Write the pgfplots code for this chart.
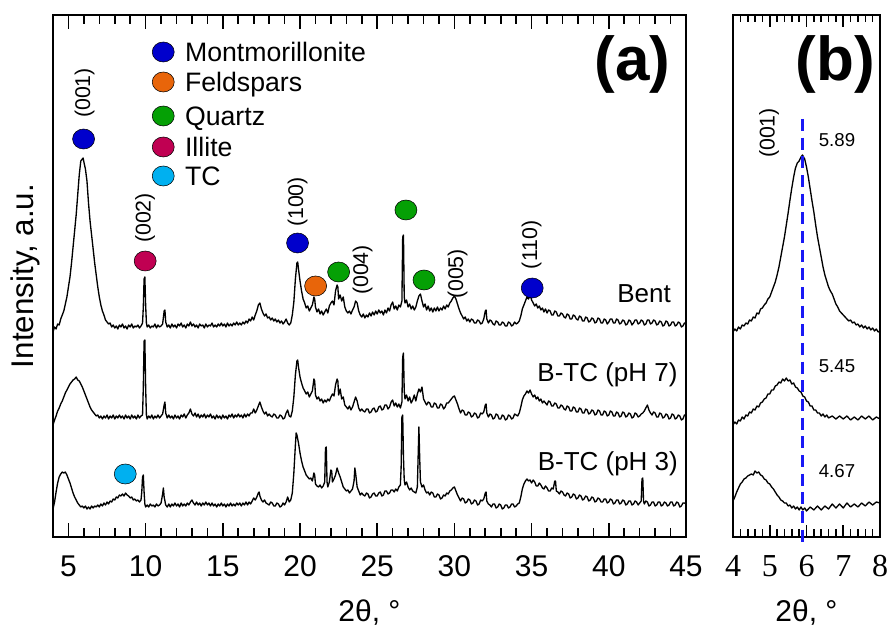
\documentclass[border=0pt]{standalone}
\usepackage{pgfplots}
\pgfplotsset{compat=1.18}
\usepackage{fontspec}
\setmainfont{Liberation Sans}
\newfontfamily\serifnum{Liberation Serif}
\newcommand{\fs}[1]{\fontsize{#1}{#1}\selectfont}
\definecolor{cmont}{RGB}{0,0,204}
\definecolor{cfeld}{RGB}{232,101,10}
\definecolor{cquartz}{RGB}{5,160,5}
\definecolor{cillite}{RGB}{192,0,82}
\definecolor{ctc}{RGB}{0,176,240}
\definecolor{cline}{RGB}{25,25,245}
\newcommand{\dotplot}[3]{\addplot[only marks, mark=*, mark size=7.5pt, mark options={draw=none, fill=#1, xscale=1.1}] coordinates {(#2,#3)};}
\pgfplotsset{trace/.style={black, line width=1.0pt, no marks, line join=round}}
\begin{document}
\begin{tikzpicture}
\path[use as bounding box] (0pt,0pt) rectangle (667.5pt,473.25pt);
\begin{axis}[
  at={(39.75pt,70.5pt)}, anchor=south west, scale only axis,
  width=474.75pt, height=391.5pt,
  xmin=4, xmax=45, ymin=0, ymax=522,
  xtick={5,10,...,45}, ytick=\empty,
  tick align=inside, xtick pos=both,
  major tick length=10.5pt,
  tick style={draw=black, line width=1.2pt},
  axis line style={line width=1.1pt},
  /pgf/number format/assume math mode=true,
  xticklabel style={font=\fs{22.5}, anchor=base, yshift=-30pt},
  xlabel={2θ, °}, xlabel style={at={(axis description cs:0.5,-0.162)}, anchor=base, font=\fs{22.5}},
  ylabel={Intensity, a.u.}, ylabel style={at={(axis description cs:-0.0442,0.5)}, anchor=center, font=\fs{23.5}},
]
% tick marks (bottom and top, inward)
\pgfplotsinvokeforeach{5,10,15,20,25,30,35,40,45}{
  \draw[black, line width=1.2pt] (axis cs:#1,0) -- (axis cs:#1,14);
  \draw[black, line width=1.2pt] (axis cs:#1,522) -- (axis cs:#1,508);
}
\pgfplotsinvokeforeach{6,7,8,9,11,12,13,14,16,17,18,19,21,22,23,24,26,27,28,29,31,32,33,34,36,37,38,39,41,42,43,44}{
  \draw[black, line width=1.2pt] (axis cs:#1,0) -- (axis cs:#1,9);
  \draw[black, line width=1.2pt] (axis cs:#1,522) -- (axis cs:#1,513);
}
% Bent
\addplot[trace] coordinates {(4.0,205) (4.1,210) (4.2,208) (4.3,213) (4.4,212) (4.5,218) (4.6,222) (4.7,226) (4.8,233) (4.9,240) (5.0,250) (5.1,260) (5.2,274) (5.3,290) (5.4,306) (5.5,322) (5.6,342) (5.7,362) (5.8,376) (5.9,378) (5.95,379) (6.0,375) (6.1,368) (6.2,356) (6.3,334) (6.4,316) (6.5,302) (6.6,288) (6.7,274) (6.8,262) (6.9,250) (7.0,240) (7.1,232) (7.2,226) (7.3,222) (7.4,217) (7.5,215) (7.6,213) (7.7,214) (7.8,210)
(7.9,212) (8.0,209) (8.1,211) (8.2,208) (8.3,212) (8.4,210) (8.5,213) (8.6,209) (8.7,211) (8.8,208) (8.9,212) (9.0,210) (9.1,213) (9.2,209) (9.3,211) (9.4,210) (9.5,212) (9.6,209) (9.7,211) (9.8,214) (9.85,230) (9.9,258) (9.95,260) (10.0,232) (10.05,214) (10.1,210) (10.2,212) (10.3,209) (10.4,211) (10.5,210) (10.6,213) (10.7,209) (10.8,212) (10.9,210) (11.0,211) (11.1,213) (11.2,226) (11.25,227) (11.3,215) (11.4,210) (11.5,212)
(11.6,209) (11.7,213) (11.8,210) (11.9,212) (12.0,209) (12.1,213) (12.2,211) (12.3,214) (12.4,210) (12.5,212) (12.6,209) (12.7,213) (12.8,211) (12.9,215) (13.0,211) (13.1,213) (13.2,210) (13.3,212) (13.4,209) (13.5,213) (13.6,211) (13.7,212) (13.8,209) (13.9,213) (14.0,210) (14.1,212) (14.2,211) (14.3,214) (14.4,210) (14.5,212) (14.6,210) (14.7,213) (14.8,211) (14.9,214) (15.0,211) (15.1,213) (15.2,210) (15.3,214) (15.4,211) (15.5,213) (15.6,211) (15.7,214) (15.8,212) (15.9,215) (16.0,212) (16.1,214) (16.2,212) (16.3,215) (16.4,213) (16.5,216) (16.6,214) (16.7,218) (16.8,216) (16.9,220) (17.0,217) (17.1,222) (17.2,226) (17.3,232) (17.4,234) (17.5,228) (17.6,224) (17.7,221) (17.8,223) (17.9,219) (18.0,220) (18.1,217) (18.2,219) (18.3,216) (18.4,218) (18.5,215) (18.6,217) (18.7,214) (18.8,216) (18.9,213) (19.0,215) (19.1,218) (19.2,214) (19.3,212) (19.4,214) (19.5,222) (19.6,235) (19.7,258) (19.8,274) (19.85,275) (19.9,268) (20.0,256) (20.1,246) (20.2,238) (20.3,234) (20.4,229) (20.5,231) (20.6,226) (20.7,229) (20.8,232) (20.9,240) (20.95,238) (21.0,230) (21.1,225) (21.2,228) (21.3,223) (21.4,226) (21.5,222) (21.6,225) (21.7,228) (21.8,224) (21.9,231) (22.0,234) (22.1,236) (22.2,232) (22.3,246) (22.4,252) (22.45,250) (22.5,238) (22.6,242) (22.7,236) (22.8,240) (22.9,230) (23.0,226) (23.1,224) (23.2,226) (23.3,223) (23.4,227) (23.5,230) (23.6,236) (23.7,234) (23.8,226) (23.9,222) (24.0,220) (24.1,223) (24.2,219) (24.3,222) (24.4,220) (24.5,224) (24.6,221) (24.7,225) (24.8,222) (24.9,226) (25.0,223) (25.1,227) (25.2,224) (25.3,226) (25.4,222) (25.5,227) (25.6,224) (25.7,229) (25.8,226) (25.9,232) (26.0,235) (26.1,228) (26.2,231) (26.3,227) (26.4,232) (26.5,230) (26.6,236) (26.65,300) (26.7,302) (26.75,240) (26.8,234) (26.9,237) (27.0,230) (27.1,233) (27.2,228) (27.3,231) (27.4,227) (27.5,230) (27.6,236) (27.7,241) (27.8,243) (27.9,236) (28.0,230) (28.1,233) (28.2,227) (28.3,231) (28.4,226) (28.5,229) (28.6,225) (28.7,229) (28.8,226) (28.9,230) (29.0,226) (29.1,229) (29.2,227) (29.3,231) (29.4,228) (29.5,232) (29.6,230) (29.7,234) (29.8,236) (29.9,239) (30.0,241) (30.1,238) (30.2,233) (30.3,228) (30.4,224) (30.5,221) (30.6,218) (30.7,220) (30.8,216) (30.9,218) (31.0,215) (31.1,218) (31.2,217) (31.3,214) (31.4,214) (31.5,217) (31.6,216) (31.7,213) (31.8,214) (31.9,218) (32.0,226) (32.05,227) (32.1,218) (32.2,214) (32.3,217) (32.4,216) (32.5,213) (32.6,212) (32.7,216) (32.8,215) (32.9,212) (33.0,212) (33.1,215) (33.2,214) (33.3,211) (33.4,211) (33.5,215) (33.6,214) (33.7,211) (33.8,212) (33.9,215) (34.0,213) (34.1,214) (34.2,216) (34.3,221) (34.4,228) (34.5,232) (34.6,236) (34.7,240) (34.8,238) (34.9,242) (35.0,237) (35.1,234) (35.2,231) (35.3,233) (35.4,229) (35.5,231) (35.6,227) (35.7,229) (35.8,225) (35.9,228) (36.0,224) (36.1,227) (36.2,226) (36.3,222) (36.4,222) (36.5,226) (36.6,225) (36.7,221) (36.8,221) (36.9,224) (37.0,223) (37.1,220) (37.2,219) (37.3,223) (37.4,222) (37.5,218) (37.6,218) (37.7,222) (37.8,221) (37.9,218) (38.0,217) (38.1,221) (38.2,220) (38.3,216) (38.4,216) (38.5,220) (38.6,219) (38.7,215) (38.8,216) (38.9,219) (39.0,218) (39.1,214) (39.2,215) (39.3,219) (39.4,218) (39.5,214) (39.6,214) (39.7,218) (39.8,217) (39.9,213) (40.0,215) (40.1,218) (40.2,218) (40.3,214) (40.4,214) (40.5,218) (40.6,217) (40.7,213) (40.8,214) (40.9,217) (41.0,216) (41.1,212) (41.2,213) (41.3,217) (41.4,216) (41.5,212) (41.6,214) (41.7,217) (41.8,217) (41.9,213) (42.0,214) (42.1,217) (42.2,216) (42.3,212) (42.4,213) (42.5,217) (42.6,217) (42.7,213) (42.8,214) (42.9,217) (43.0,216) (43.1,212) (43.2,213) (43.3,216) (43.4,215) (43.5,211) (43.6,212) (43.7,216) (43.8,215) (43.9,211) (44.0,212) (44.1,215) (44.2,215) (44.3,211) (44.4,212) (44.5,215) (44.6,214) (44.7,210) (44.8,211) (44.9,214) (45.0,213)};
% B-TC pH 7
\addplot[trace] coordinates {(4.0,112) (4.1,117) (4.2,121) (4.3,126) (4.4,129) (4.5,133) (4.6,136) (4.7,140) (4.8,144) (4.9,147) (5.0,150) (5.1,153) (5.2,155) (5.3,157) (5.4,158) (5.5,160) (5.6,157) (5.7,156) (5.8,153) (5.9,150) (6.0,146) (6.1,142) (6.2,138) (6.3,134) (6.4,130) (6.5,127) (6.6,125) (6.7,123) (6.8,121) (6.9,122) (7.0,119) (7.1,121)
(7.2,118) (7.3,121) (7.4,119) (7.5,122) (7.6,118) (7.7,121) (7.8,119) (7.9,122) (8.0,118) (8.1,121) (8.2,119) (8.3,122) (8.4,119) (8.5,121) (8.6,118) (8.7,122) (8.8,119) (8.9,121) (9.0,118) (9.1,122) (9.2,119) (9.3,121) (9.4,118) (9.5,122) (9.6,119) (9.7,121) (9.8,122) (9.85,150) (9.9,196) (9.95,197) (10.0,150) (10.05,122) (10.1,118) (10.2,121) (10.3,119) (10.4,122) (10.5,118) (10.6,121) (10.7,119) (10.8,122) (10.9,119) (11.0,121) (11.1,123) (11.2,132) (11.25,135) (11.3,124) (11.4,119)
(11.5,122) (11.6,119) (11.7,121) (11.8,118) (11.9,122) (12.0,119) (12.1,121) (12.2,118) (12.3,122) (12.4,120) (12.5,123) (12.6,119) (12.7,122) (12.8,124) (12.9,128) (13.0,123) (13.1,121) (13.2,124) (13.3,120) (13.4,123) (13.5,119) (13.6,122) (13.7,120) (13.8,123) (13.9,119) (14.0,122) (14.1,120) (14.2,123) (14.3,119) (14.4,121) (14.5,118) (14.6,122) (14.7,119) (14.8,121) (14.9,118) (15.0,122) (15.1,119) (15.2,121) (15.3,118) (15.4,122) (15.5,120) (15.6,123) (15.7,119) (15.8,122) (15.9,120) (16.0,123) (16.1,120) (16.2,122) (16.3,119) (16.4,123) (16.5,120) (16.6,123) (16.7,121) (16.8,124)
(16.9,124) (17.0,128) (17.1,124) (17.2,127) (17.3,131) (17.4,135) (17.5,130) (17.6,126) (17.7,123) (17.8,125) (17.9,121) (18.0,123) (18.1,121) (18.2,120) (18.3,123) (18.4,122) (18.5,119) (18.6,119) (18.7,122) (18.8,121) (18.9,118) (19.0,119) (19.1,124) (19.2,127) (19.3,121) (19.4,120) (19.5,126) (19.6,140) (19.7,162) (19.8,176) (19.85,177) (19.9,170) (20.0,160) (20.1,154) (20.2,149) (20.3,146) (20.4,143) (20.5,145) (20.6,140) (20.7,143) (20.8,146) (20.9,158) (20.95,156) (21.0,142) (21.1,138) (21.2,140) (21.3,136) (21.4,138) (21.5,134) (21.6,137) (21.7,135) (21.8,138) (21.9,136) (22.0,140) (22.1,143) (22.2,141) (22.3,152) (22.4,158) (22.45,156) (22.5,142) (22.6,148) (22.7,138) (22.8,140) (22.9,132) (23.0,130) (23.1,128) (23.2,131) (23.3,127) (23.4,130) (23.5,135) (23.6,140) (23.7,136) (23.8,129) (23.9,126) (24.0,128) (24.1,126) (24.2,125) (24.3,128) (24.4,128) (24.5,124) (24.6,125) (24.7,128) (24.8,129) (24.9,125) (25.0,126) (25.1,130) (25.2,131) (25.3,127) (25.4,128) (25.5,132) (25.6,132) (25.7,128) (25.8,130) (25.9,135) (26.0,137) (26.1,131) (26.2,134) (26.3,130) (26.4,133) (26.5,129) (26.6,135) (26.65,180) (26.7,184) (26.75,146) (26.8,138) (26.9,142) (27.0,136) (27.1,140) (27.2,134) (27.3,137) (27.4,142) (27.5,136) (27.6,143) (27.7,148) (27.8,145) (27.9,150) (28.0,138) (28.1,135) (28.2,132) (28.3,135) (28.4,134) (28.5,130) (28.6,130) (28.7,134) (28.8,133) (28.9,129) (29.0,129) (29.1,133) (29.2,132) (29.3,128) (29.4,130) (29.5,134) (29.6,134) (29.7,136) (29.8,138) (29.9,140) (30.0,141) (30.1,137) (30.2,133) (30.3,128) (30.4,124) (30.5,127) (30.6,126) (30.7,122) (30.8,122) (30.9,125) (31.0,124) (31.1,120) (31.2,121) (31.3,124) (31.4,123) (31.5,119) (31.6,120) (31.7,124) (31.8,123) (31.9,125) (32.0,132) (32.05,133) (32.1,124) (32.2,120) (32.3,123) (32.4,122) (32.5,118) (32.6,119) (32.7,123) (32.8,122) (32.9,118) (33.0,118) (33.1,122) (33.2,121) (33.3,117) (33.4,118) (33.5,122) (33.6,121) (33.7,118) (33.8,119) (33.9,123) (34.0,122) (34.1,121) (34.2,124) (34.3,130) (34.4,137) (34.5,141) (34.6,143) (34.7,146) (34.8,144) (34.9,147) (35.0,143) (35.1,140) (35.2,142) (35.3,138) (35.4,140) (35.5,136) (35.6,138) (35.7,134) (35.8,136) (35.9,134) (36.0,132) (36.1,136) (36.2,135) (36.3,131) (36.4,131) (36.5,134) (36.6,133) (36.7,129) (36.8,129) (36.9,132) (37.0,131) (37.1,128) (37.2,127) (37.3,131) (37.4,130) (37.5,126) (37.6,126) (37.7,130) (37.8,129) (37.9,125) (38.0,125) (38.1,129) (38.2,128) (38.3,124) (38.4,124) (38.5,128) (38.6,127) (38.7,123) (38.8,124) (38.9,127) (39.0,126) (39.1,122) (39.2,123) (39.3,127) (39.4,126) (39.5,122) (39.6,122) (39.7,126) (39.8,125) (39.9,121) (40.0,122) (40.1,126) (40.2,125) (40.3,121) (40.4,121) (40.5,125) (40.6,124) (40.7,120) (40.8,121) (40.9,125) (41.0,124) (41.1,120) (41.2,121) (41.3,124) (41.4,123) (41.5,119) (41.6,120) (41.7,124) (41.8,123) (41.9,120) (42.0,121) (42.1,123) (42.2,124) (42.3,126) (42.4,129) (42.5,132) (42.6,127) (42.7,124) (42.8,122) (42.9,125) (43.0,124) (43.1,120) (43.2,120) (43.3,124) (43.4,123) (43.5,119) (43.6,120) (43.7,123) (43.8,122) (43.9,118) (44.0,119) (44.1,123) (44.2,122) (44.3,118) (44.4,119) (44.5,122) (44.6,121) (44.7,117) (44.8,118) (44.9,122) (45.0,121)};
% B-TC pH 3
\addplot[trace] coordinates {(4.0,28) (4.1,35) (4.2,45) (4.3,54) (4.4,60) (4.5,63) (4.6,65) (4.7,64) (4.8,65) (4.9,62) (5.0,58) (5.1,54) (5.2,49) (5.3,44) (5.4,40) (5.5,37) (5.6,34) (5.7,32) (5.8,30) (5.9,31) (6.0,29) (6.1,31) (6.2,28) (6.3,30) (6.4,28) (6.5,31) (6.6,29) (6.7,31) (6.8,30) (6.9,32) (7.0,30) (7.1,33) (7.2,31) (7.3,34) (7.4,32) (7.5,35) (7.6,33) (7.7,36) (7.8,35) (7.9,38) (8.0,37) (8.1,40) (8.2,39) (8.3,42) (8.4,41) (8.5,43) (8.6,41) (8.7,44) (8.8,42) (8.9,41) (9.0,39) (9.1,40) (9.2,37) (9.3,38) (9.4,36) (9.5,37) (9.6,35) (9.7,37) (9.75,45) (9.8,60) (9.85,62) (9.9,45) (9.95,33) (10.0,30) (10.1,32) (10.2,30) (10.3,33) (10.4,31) (10.5,32) (10.6,30) (10.7,33) (10.8,31) (10.9,32) (11.0,34) (11.1,43) (11.15,49) (11.2,40) (11.3,32) (11.4,30)
(11.5,33) (11.6,30) (11.7,33) (11.8,31) (11.9,34) (12.0,31) (12.1,33) (12.2,30) (12.3,34) (12.4,31) (12.5,33) (12.6,31) (12.7,34) (12.8,32) (12.9,35) (13.0,37) (13.1,34) (13.2,32) (13.3,35) (13.4,32) (13.5,34) (13.6,31) (13.7,34) (13.8,32) (13.9,35) (14.0,32) (14.1,34) (14.2,31) (14.3,34) (14.4,31) (14.5,33) (14.6,30) (14.7,33) (14.8,31) (14.9,34) (15.0,31) (15.1,33) (15.2,30) (15.3,33) (15.4,31) (15.5,34) (15.6,31) (15.7,33) (15.8,31) (15.9,34) (16.0,32) (16.1,34) (16.2,31) (16.3,34) (16.4,32) (16.5,35) (16.6,32) (16.7,35)
(16.8,33) (16.9,36) (17.0,39) (17.1,37) (17.2,40) (17.3,44) (17.35,45) (17.4,41) (17.5,37) (17.6,35) (17.7,37) (17.8,34) (17.9,33) (18.0,32) (18.1,35) (18.2,34) (18.3,31) (18.4,31) (18.5,34) (18.6,33) (18.7,30) (18.8,31) (18.9,34) (19.0,32) (19.1,35) (19.2,40) (19.3,35) (19.4,37) (19.5,44) (19.6,64) (19.7,92) (19.75,104) (19.8,102) (19.9,94) (20.0,84) (20.1,76) (20.2,70) (20.3,66) (20.4,62) (20.5,60) (20.6,58) (20.7,59) (20.8,56) (20.9,64) (20.95,62) (21.0,53) (21.1,51) (21.2,50) (21.3,52) (21.4,49) (21.5,51) (21.6,55) (21.65,89) (21.7,90) (21.75,55) (21.8,50) (21.9,55) (22.0,67) (22.05,66) (22.1,55) (22.2,58) (22.3,62) (22.4,69) (22.5,64) (22.6,60) (22.7,55) (22.8,50) (22.9,48) (23.0,46) (23.1,47) (23.2,44) (23.3,46) (23.4,48) (23.5,56) (23.55,69) (23.6,64) (23.7,50) (23.8,46) (23.9,42) (24.0,44) (24.1,42) (24.2,41) (24.3,44) (24.4,43) (24.5,39) (24.6,40) (24.7,43) (24.8,44) (24.9,41) (25.0,41) (25.1,44) (25.2,45) (25.3,41) (25.4,42) (25.5,46) (25.6,46) (25.7,43) (25.8,44) (25.9,47) (26.0,47) (26.1,45) (26.2,48) (26.3,46) (26.4,50) (26.5,52) (26.55,70) (26.6,120) (26.65,122) (26.7,80) (26.75,57) (26.8,52) (26.9,55) (27.0,50) (27.1,47) (27.2,49) (27.3,46) (27.4,45) (27.5,44) (27.6,50) (27.65,80) (27.7,110) (27.75,80) (27.8,55) (27.9,50) (28.0,52) (28.1,47) (28.2,44) (28.3,45) (28.4,42) (28.5,45) (28.6,44) (28.7,40) (28.8,40) (28.9,43) (29.0,42) (29.1,38) (29.2,39) (29.3,42) (29.4,41) (29.5,44) (29.6,43) (29.7,46) (29.8,47) (29.9,49) (30.0,50) (30.1,46) (30.2,42) (30.3,39) (30.4,36) (30.5,39) (30.6,38) (30.7,34) (30.8,35) (30.9,38) (31.0,37) (31.1,33) (31.2,34) (31.3,37) (31.4,36) (31.5,32) (31.6,33) (31.7,37) (31.8,36) (31.9,38) (32.0,44) (32.05,45) (32.1,36) (32.2,33) (32.3,32) (32.4,30) (32.5,33) (32.6,33) (32.7,29) (32.8,30) (32.9,33) (33.0,32) (33.1,28) (33.2,29) (33.3,32) (33.4,32) (33.5,29) (33.6,30) (33.7,33) (33.8,33) (33.9,30) (34.0,31) (34.1,33) (34.2,34) (34.3,40) (34.4,48) (34.5,53) (34.6,56) (34.7,58) (34.8,56) (34.9,57) (35.0,54) (35.1,57) (35.2,55) (35.3,51) (35.4,51) (35.5,54) (35.6,52) (35.7,49) (35.8,48) (35.9,51) (36.0,49) (36.1,46) (36.2,46) (36.3,49) (36.4,48) (36.5,56) (36.55,56) (36.6,46) (36.7,45) (36.8,43) (36.9,46) (37.0,45) (37.1,42) (37.2,41) (37.3,44) (37.4,43) (37.5,39) (37.6,40) (37.7,43) (37.8,42) (37.9,38) (38.0,39) (38.1,42) (38.2,41) (38.3,37) (38.4,38) (38.5,41) (38.6,40) (38.7,36) (38.8,37) (38.9,40) (39.0,39) (39.1,35) (39.2,36) (39.3,39) (39.4,38) (39.5,35) (39.6,35) (39.7,38) (39.8,38) (39.9,34) (40.0,35) (40.1,38) (40.2,37) (40.3,33) (40.4,34) (40.5,37) (40.6,37) (40.7,33) (40.8,34) (40.9,37) (41.0,36) (41.1,32) (41.2,33) (41.3,36) (41.4,36) (41.5,32) (41.6,33) (41.7,36) (41.8,35) (41.9,32) (42.0,34) (42.1,36) (42.15,58) (42.2,59) (42.25,36) (42.3,33) (42.4,36) (42.5,35) (42.6,31) (42.7,32) (42.8,35) (42.9,35) (43.0,31) (43.1,32) (43.2,35) (43.3,35) (43.4,31) (43.5,32) (43.6,35) (43.7,34) (43.8,31) (43.9,32) (44.0,35) (44.1,35) (44.2,31) (44.3,32) (44.4,35) (44.5,34) (44.6,30) (44.7,31) (44.8,34) (44.9,34) (45.0,33)};
% phase markers
\dotplot{cmont}{5.98}{398}
\dotplot{cillite}{9.97}{276}
\dotplot{cmont}{19.84}{294}
\dotplot{cfeld}{21.01}{251}
\dotplot{cquartz}{22.5}{265}
\dotplot{cquartz}{26.86}{327}
\dotplot{cquartz}{28.03}{257}
\dotplot{cmont}{35.04}{249}
\dotplot{ctc}{8.68}{63}
% legend dots
\dotplot{cmont}{11.14}{485}
\dotplot{cfeld}{11.14}{455}
\dotplot{cquartz}{11.14}{421}
\dotplot{cillite}{11.14}{390}
\dotplot{ctc}{11.14}{361}
\node[anchor=base west, font=\fs{20}] at (axis cs:12.25,475.5) {Montmorillonite};
\node[anchor=base west, font=\fs{20}] at (axis cs:12.25,445.5) {Feldspars};
\node[anchor=base west, font=\fs{20}] at (axis cs:12.25,411.5) {Quartz};
\node[anchor=base west, font=\fs{20}] at (axis cs:12.25,380.5) {Illite};
\node[anchor=base west, font=\fs{20}] at (axis cs:12.25,351.5) {TC};
% hkl labels
\node[rotate=90, font=\fs{16}] at (axis cs:6.05,444) {(001)};
\node[rotate=90, font=\fs{16}] at (axis cs:9.97,319) {(002)};
\node[rotate=90, font=\fs{16}] at (axis cs:19.84,335) {(100)};
\node[rotate=90, font=\fs{16}] at (axis cs:24.06,267) {(004)};
\node[rotate=90, font=\fs{16}] at (axis cs:30.2,263) {(005)};
\node[rotate=90, font=\fs{16}] at (axis cs:35.0,292) {(110)};
% sample labels
\node[anchor=base east, font=\fs{19.5}] at (axis cs:44.32,234) {Bent};
\node[anchor=base east, font=\fs{19.5}] at (axis cs:44.76,155) {B-TC (pH 7)};
\node[anchor=base east, font=\fs{19.5}] at (axis cs:44.78,66) {B-TC (pH 3)};
\node[font=\fs{46.5}\bfseries] at (axis cs:41.53,473) {(a)};
\end{axis}
\begin{axis}[
  at={(549.75pt,70.5pt)}, anchor=south west, scale only axis,
  width=110.25pt, height=391.5pt,
  xmin=4, xmax=8, ymin=0, ymax=522, clip=false,
  xtick={4,5,6,7,8}, ytick=\empty,
  tick align=inside, xtick pos=both,
  major tick length=9pt,
  tick style={draw=black, line width=1.2pt},
  axis line style={line width=1.1pt},
  /pgf/number format/assume math mode=true,
  xticklabel style={font=\serifnum\fs{24}, anchor=base, yshift=-30pt},
  xlabel={2θ, °}, xlabel style={at={(axis description cs:0.5,-0.162)}, anchor=base, font=\fs{22.5}},
]
\pgfplotsinvokeforeach{4,5,6,7,8}{
  \draw[black, line width=1.2pt] (axis cs:#1,0) -- (axis cs:#1,12);
  \draw[black, line width=1.2pt] (axis cs:#1,522) -- (axis cs:#1,510);
}
\pgfplotsinvokeforeach{4.2,4.4,4.6,4.8,5.2,5.4,5.6,5.8,6.2,6.4,6.6,6.8,7.2,7.4,7.6,7.8}{
  \draw[black, line width=1.2pt] (axis cs:#1,0) -- (axis cs:#1,7.5);
  \draw[black, line width=1.2pt] (axis cs:#1,522) -- (axis cs:#1,514.5);
}
\addplot[trace] coordinates {(4.00,205) (4.05,208) (4.10,206) (4.15,210) (4.20,208) (4.25,212) (4.30,211) (4.35,214) (4.40,213) (4.45,217) (4.50,216) (4.55,220) (4.60,219) (4.65,224) (4.70,223) (4.75,228) (4.80,229) (4.85,232) (4.90,234) (4.95,238) (5.00,240) (5.05,245) (5.10,250) (5.15,255) (5.20,262) (5.25,270) (5.30,280) (5.35,290) (5.40,300) (5.45,312) (5.50,324) (5.55,337) (5.60,349) (5.65,360) (5.70,369) (5.75,374) (5.80,376) (5.85,380) (5.89,382) (5.95,378) (6.00,370) (6.05,360) (6.10,348) (6.15,336) (6.20,325) (6.25,312) (6.30,300) (6.35,290) (6.40,280) (6.45,270) (6.50,262) (6.55,256) (6.60,250) (6.65,246) (6.70,243) (6.75,238) (6.80,233) (6.85,230) (6.90,226) (6.95,224) (7.00,222) (7.05,220) (7.10,218) (7.15,216) (7.20,217) (7.25,214) (7.30,215) (7.35,212) (7.40,213) (7.45,210) (7.50,212) (7.55,209) (7.60,211) (7.65,208) (7.70,210) (7.75,207) (7.80,209) (7.85,206) (7.90,208) (7.95,205) (8.00,206)};
\addplot[trace] coordinates {(4.00,112) (4.05,115) (4.10,113) (4.15,117) (4.20,116) (4.25,120) (4.30,118) (4.35,122) (4.40,121) (4.45,125) (4.50,124) (4.55,128) (4.60,127) (4.65,131) (4.70,130) (4.75,134) (4.80,135) (4.85,138) (4.90,139) (4.95,143) (5.00,143) (5.05,147) (5.10,147) (5.15,151) (5.20,152) (5.25,155) (5.30,154) (5.35,158) (5.40,156) (5.45,159) (5.50,156) (5.55,157) (5.60,153) (5.65,154) (5.70,150) (5.75,149) (5.80,146) (5.85,145) (5.90,141) (5.95,140) (6.00,136) (6.05,135) (6.10,131) (6.15,131) (6.20,127) (6.25,127) (6.30,124) (6.35,124) (6.40,121) (6.45,123) (6.50,120) (6.55,122) (6.60,119) (6.70,121) (6.80,118) (6.90,121) (7.00,118) (7.10,121) (7.20,117) (7.30,120) (7.40,117) (7.50,121) (7.60,118) (7.70,121) (7.80,117) (7.90,120) (8.00,118)};
\addplot[trace] coordinates {(4.00,36) (4.05,40) (4.10,45) (4.15,49) (4.20,53) (4.25,55) (4.30,58) (4.35,59) (4.40,61) (4.45,62) (4.50,63) (4.55,62) (4.60,66) (4.65,64) (4.70,65) (4.75,62) (4.80,61) (4.85,58) (4.90,57) (4.95,54) (5.00,53) (5.05,50) (5.10,48) (5.15,45) (5.20,42) (5.25,40) (5.30,37) (5.35,36) (5.40,34) (5.45,34) (5.50,31) (5.55,32) (5.60,29) (5.65,31) (5.70,28) (5.75,30) (5.80,27) (5.85,30) (5.90,27) (5.95,29) (6.00,26) (6.10,30) (6.20,27) (6.30,31) (6.40,27) (6.50,31) (6.60,28) (6.70,33) (6.80,29) (6.90,33) (7.00,29) (7.10,34) (7.20,30) (7.30,33) (7.40,30) (7.50,34) (7.60,31) (7.70,35) (7.80,32) (7.90,35) (8.00,34)};
\addplot[cline, line width=2.2pt, dash pattern=on 9pt off 5pt] coordinates {(5.89,418) (5.89,-8)};
\node[rotate=90, font=\fs{16}] at (axis cs:4.98,404) {(001)};
\node[font=\fs{14}] at (axis cs:6.83,397) {5.89};
\node[font=\fs{14}] at (axis cs:6.83,171) {5.45};
\node[font=\fs{14}] at (axis cs:6.83,66) {4.67};
\node[font=\fs{46.5}\bfseries] at (axis cs:6.78,473) {(b)};
\end{axis}
\end{tikzpicture}
\end{document}
